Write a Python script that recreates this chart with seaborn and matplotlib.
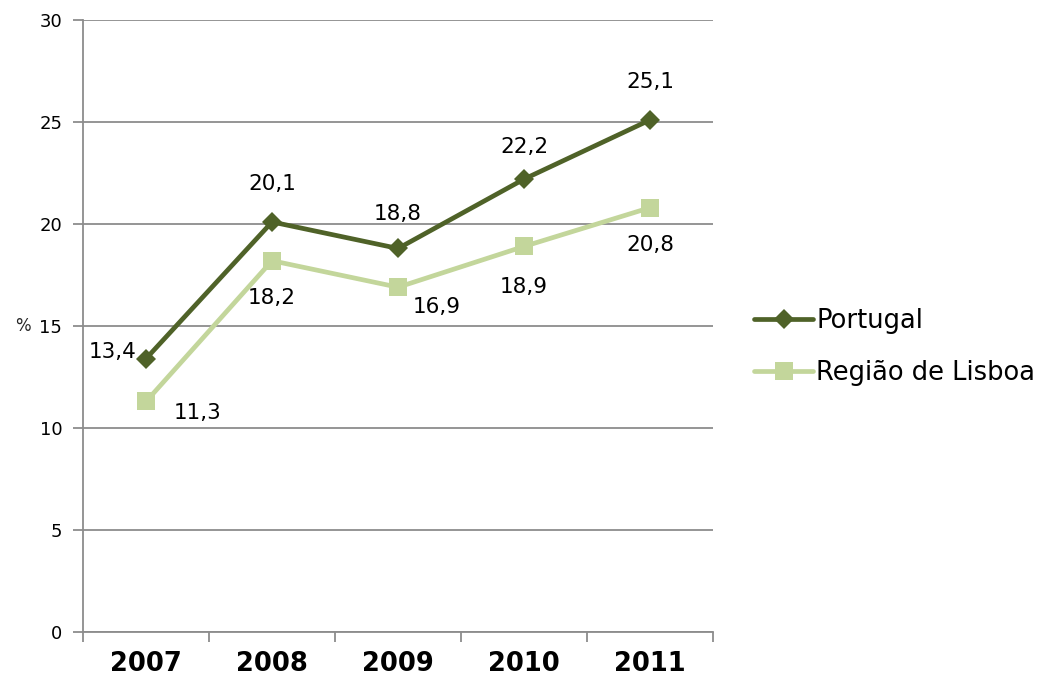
import pandas as pd
import matplotlib.pyplot as plt
import seaborn as sns

# data
years = ["2007", "2008", "2009", "2010", "2011"]
portugal = [13.4, 20.1, 18.8, 22.2, 25.1]
lisboa = [11.3, 18.2, 16.9, 18.9, 20.8]
series_names = ["Portugal", "Região de Lisboa"]

df = pd.DataFrame({
    "Ano": years * 2,
    "Valor": portugal + lisboa,
    "Serie": [series_names[0]] * 5 + [series_names[1]] * 5,
})

colors = {"Portugal": "#4F6228", "Região de Lisboa": "#C3D69B"}
grid_col = "#8C8C8C"

sns.set_style("white")
plt.rcParams["font.family"] = ["DejaVu Sans"]
plt.rcParams["text.color"] = "black"
plt.rcParams["xtick.color"] = "black"
plt.rcParams["ytick.color"] = "black"

fig = plt.figure(figsize=(10.54, 6.8), dpi=100)
ax = fig.add_axes([0.0788, 0.0706, 0.5977, 0.9])

sns.lineplot(
    data=df, x="Ano", y="Valor", hue="Serie", style="Serie",
    palette=colors, markers={"Portugal": "D", "Região de Lisboa": "s"},
    dashes=False, linewidth=3.4, markersize=12, markeredgewidth=0,
    sort=False, legend=False, ax=ax,
)
# bigger squares for Lisboa
for ln in ax.get_lines():
    if ln.get_marker() == "s":
        ln.set_markersize(13.5)
    else:
        ln.set_markersize(10.5)

ax.set_xlim(-0.5, 4.5)
ax.set_ylim(0, 30)
ax.set_yticks(range(0, 31, 5))
ax.yaxis.grid(True, color=grid_col, linewidth=1.3)
ax.set_axisbelow(True)

for s in ["top", "right"]:
    ax.spines[s].set_visible(False)
for s in ["left", "bottom"]:
    ax.spines[s].set_color(grid_col)
    ax.spines[s].set_linewidth(1.3)

ax.tick_params(axis="y", left=True, length=7, width=1.3, color=grid_col,
               labelcolor="black", labelsize=13, pad=8)
ax.tick_params(axis="x", which="major", bottom=False, length=0, labelsize=18.5, pad=14)
ax.set_xticks([i - 0.5 for i in range(6)], minor=True)
ax.tick_params(axis="x", which="minor", bottom=True, length=7, width=1.3, color=grid_col)
for lbl in ax.get_xticklabels():
    lbl.set_fontweight("bold")

ax.set_xlabel("")
ax.set_ylabel("%", rotation=0, fontsize=12, labelpad=12, va="center")

# data labels
pt_off = [(-24, 5), (0, 27), (0, 25), (0, 23), (0, 27)]
lx_off = [(37, -8), (0, -27), (28, -14), (0, -29), (0, -27)]
for i in range(5):
    ax.annotate(f"{portugal[i]:.1f}".replace(".", ","), (i, portugal[i]),
                xytext=pt_off[i], textcoords="offset points",
                ha="center", va="center", fontsize=15.5)
    ax.annotate(f"{lisboa[i]:.1f}".replace(".", ","), (i, lisboa[i]),
                xytext=lx_off[i], textcoords="offset points",
                ha="center", va="center", fontsize=15.5)

# legend
handles = [
    plt.Line2D([], [], color=colors["Portugal"], marker="D", markersize=10.5,
               linewidth=3.4, markeredgewidth=0),
    plt.Line2D([], [], color=colors["Região de Lisboa"], marker="s", markersize=13.5,
               linewidth=3.4, markeredgewidth=0),
]
fig.legend(handles, series_names, loc="center left", bbox_to_anchor=(0.706, 0.49),
           frameon=False, fontsize=18.5, handlelength=2.3, handletextpad=0.1,
           labelspacing=1.0, borderaxespad=0)

fig.savefig("out.png", dpi=100)
